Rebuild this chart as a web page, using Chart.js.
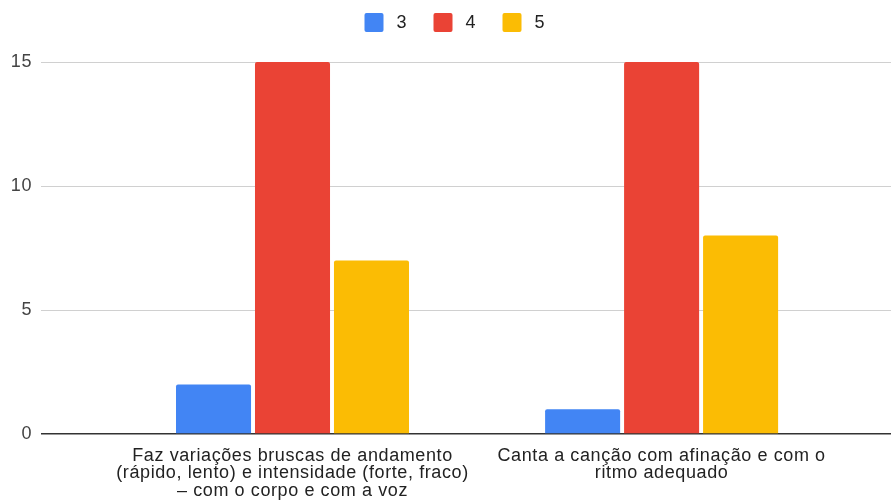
<!DOCTYPE html>
<html>
<head>
<meta charset="utf-8">
<script src="https://cdn.jsdelivr.net/npm/chart.js@4"></script>
<style>
    html, body { margin: 0; padding: 0; background: #fff; }
    #wrap { width: 891px; height: 501px; }
</style>
</head>
<body>
<div id="wrap"><canvas id="chart"></canvas></div>
<script>
// chart data
const categories = [
    ['Faz variações bruscas de andamento', '(rápido, lento) e intensidade (forte, fraco)', '– com o corpo e com a voz'],
    ['Canta a canção com afinação e com o', 'ritmo adequado']
];
const seriesNames = ['3', '4', '5'];
const values3 = [2, 1];
const values4 = [15, 15];
const values5 = [7, 8];
const yTicks = [0, 5, 10, 15];

const colors = ['#4285f4', '#ea4335', '#fbbc04'];
const fontFamily = '"Liberation Sans", Arial, sans-serif';

const toPoints = vals => vals.map((v, i) => ({ x: i, y: v }));

// the axis labels in the original are set slightly wide
const labelSpacing = {
    id: 'labelSpacing',
    beforeDraw(chart) { chart.ctx.letterSpacing = '0.6px'; },
    beforeDatasetsDraw(chart) { chart.ctx.letterSpacing = '0px'; }
};

// legend drawn by hand so the spacing matches the original
const topLegend = {
    id: 'topLegend',
    afterDraw(chart) {
        const ctx = chart.ctx;
        const sets = chart.data.datasets;
        let x = chart.width / 2 - 81;
        ctx.save();
        ctx.font = '18px ' + fontFamily;
        ctx.textBaseline = 'middle';
        sets.forEach(ds => {
            ctx.fillStyle = ds.backgroundColor;
            ctx.beginPath();
            ctx.roundRect(x, 13, 19, 19, 2);
            ctx.fill();
            ctx.fillStyle = '#222';
            ctx.fillText(ds.label, x + 32, 23);
            x += 69;
        });
        ctx.restore();
    }
};

const datasets = [values3, values4, values5].map((vals, i) => ({
    label: seriesNames[i],
    data: toPoints(vals),
    backgroundColor: colors[i],
    borderRadius: 2,
    categoryPercentage: 0.642,
    barPercentage: 0.95
}));

new Chart(document.getElementById('chart'), {
    type: 'bar',
    data: { datasets: datasets },
    plugins: [labelSpacing, topLegend],
    options: {
        responsive: true,
        maintainAspectRatio: false,
        animation: false,
        layout: { padding: { top: 62, left: 0, right: 0, bottom: 0 } },
        plugins: {
            legend: { display: false },
            tooltip: { enabled: false }
        },
        scales: {
            x: {
                type: 'linear',
                offset: false,
                min: -0.6814,
                max: 1.6215,
                grid: { display: false },
                border: { display: false },
                afterBuildTicks: axis => {
                    axis.ticks = categories.map((_, i) => ({ value: i }));
                },
                afterFit: axis => { axis.height = 67; },
                ticks: {
                    autoSkip: false,
                    maxRotation: 0,
                    padding: 5,
                    color: '#222',
                    font: { family: fontFamily, size: 18, lineHeight: 0.97 },
                    callback: (v, i) => categories[i]
                }
            },
            y: {
                min: 0,
                max: 15,
                afterBuildTicks: axis => {
                    axis.ticks = yTicks.map(v => ({ value: v }));
                },
                afterFit: axis => { axis.width = 41; },
                border: { display: false },
                grid: {
                    drawTicks: false,
                    color: c => c.tick && c.tick.value === 0 ? '#333' : '#d0d0d0',
                    lineWidth: c => c.tick && c.tick.value === 0 ? 1.5 : 1
                },
                ticks: {
                    padding: 9,
                    color: '#444',
                    font: { family: fontFamily, size: 18 }
                }
            }
        }
    }
});
</script>
</body>
</html>
